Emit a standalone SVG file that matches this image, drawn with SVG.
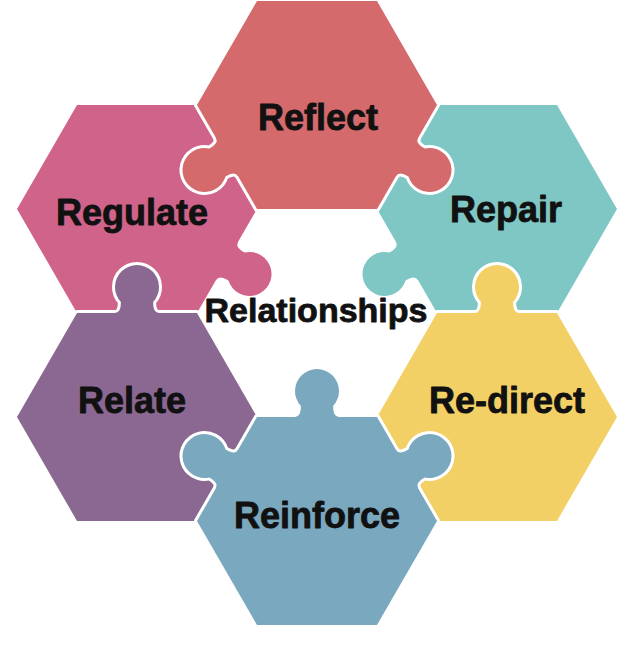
<svg xmlns="http://www.w3.org/2000/svg" xmlns:xlink="http://www.w3.org/1999/xlink" width="636" height="647" viewBox="0 0 636 647">
  <style>
    .o { stroke: #ffffff; stroke-width: 6; stroke-linejoin: round; }
    .f { stroke: none; }
    .lbl { font-family: "Liberation Sans", Arial, sans-serif; font-weight: bold; font-size: 36px; fill: #111111; text-anchor: middle; stroke: #111111; stroke-width: 0.8; stroke-linejoin: round; }
    .ctr { font-size: 34px; }
  </style>
  <defs>
    <path id="knob" d="M -22,6 L -22,0 Q -16,0 -16.1,-11 A 22 22 0 1 1 16.1,-11 Q 16,0 22,0 L 22,6 Z"/>
    <polygon id="hex" points="-120,0 -60,-103.92 60,-103.92 120,0 60,103.92 -60,103.92"/>
    <g id="s-regulate">
      <use xlink:href="#hex" transform="translate(137,209)"/>
      <use xlink:href="#knob" transform="translate(227,261) rotate(120)"/>
    </g>
    <g id="s-repair">
      <use xlink:href="#hex" transform="translate(497,209)"/>
      <use xlink:href="#knob" transform="translate(407,261) rotate(-120)"/>
    </g>
    <g id="s-reflect">
      <use xlink:href="#hex" transform="translate(317,105)"/>
      <use xlink:href="#knob" transform="translate(227,157) rotate(-120)"/>
      <use xlink:href="#knob" transform="translate(407,157) rotate(120)"/>
    </g>
    <g id="s-relate">
      <use xlink:href="#hex" transform="translate(137,417)"/>
      <use xlink:href="#knob" transform="translate(137,313)"/>
    </g>
    <g id="s-redirect">
      <use xlink:href="#hex" transform="translate(497,417)"/>
      <use xlink:href="#knob" transform="translate(497,313)"/>
    </g>
    <g id="s-reinforce">
      <use xlink:href="#hex" transform="translate(317,521)"/>
      <use xlink:href="#knob" transform="translate(317,417)"/>
      <use xlink:href="#knob" transform="translate(227,469) rotate(-60)"/>
      <use xlink:href="#knob" transform="translate(407,469) rotate(60)"/>
    </g>
  </defs>

  <rect width="636" height="647" fill="#ffffff"/>

  <g id="connectors"></g>

  <g id="regulate">
    <use xlink:href="#s-regulate" class="o" fill="#D06389"/>
    <use xlink:href="#s-regulate" class="f" fill="#D06389"/>
    <text class="lbl" x="132" y="225">Regulate</text>
  </g>
  <g id="repair">
    <use xlink:href="#s-repair" class="o" fill="#7FC7C5"/>
    <use xlink:href="#s-repair" class="f" fill="#7FC7C5"/>
    <text class="lbl" x="506" y="222">Repair</text>
  </g>
  <g id="reflect">
    <use xlink:href="#s-reflect" class="o" fill="#D46A6C"/>
    <use xlink:href="#s-reflect" class="f" fill="#D46A6C"/>
    <text class="lbl" x="318" y="130">Reflect</text>
  </g>
  <g id="relate">
    <use xlink:href="#s-relate" class="o" fill="#8A6891"/>
    <use xlink:href="#s-relate" class="f" fill="#8A6891"/>
    <text class="lbl" x="132" y="413">Relate</text>
  </g>
  <g id="redirect">
    <use xlink:href="#s-redirect" class="o" fill="#F3D066"/>
    <use xlink:href="#s-redirect" class="f" fill="#F3D066"/>
    <text class="lbl" x="507" y="413">Re-direct</text>
  </g>
  <g id="reinforce">
    <use xlink:href="#s-reinforce" class="o" fill="#7AA8BF"/>
    <use xlink:href="#s-reinforce" class="f" fill="#7AA8BF"/>
    <text class="lbl" x="317" y="528">Reinforce</text>
  </g>
  <g id="relationships">
    <text class="lbl ctr" x="316" y="322">Relationships</text>
  </g>
</svg>
